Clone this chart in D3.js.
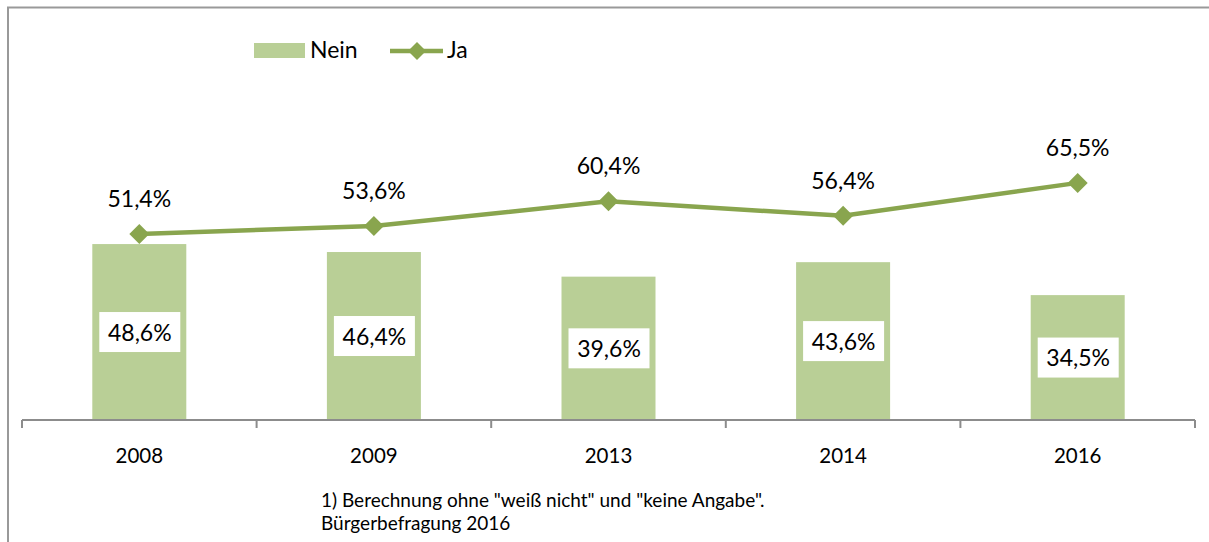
<!DOCTYPE html>
<html><head><meta charset="utf-8">
<script src="https://cdn.jsdelivr.net/npm/d3@7"></script>
<style>body{margin:0;background:#fff}svg{display:block}text{font-family:Lato,"Open Sans",sans-serif}</style>
</head><body><svg id="c" width="1209" height="542"></svg>
<script>
const categories = ["2008","2009","2013","2014","2016"];
const neinValues = [48.6,46.4,39.6,43.6,34.5];
const jaValues = [51.4,53.6,60.4,56.4,65.5];
const seriesNames = ["Nein","Ja"];
const footnotes = ['1) Berechnung ohne "weiß nicht" und "keine Angabe".','Bürgerbefragung 2016'];

const svg = d3.select("#c");
const barColor = "#B9CF96", lineColor = "#89A54E";
const fmt = v => d3.format(".1f")(v).replace(".", ",") + "%";

// frame
svg.append("line").attr("x1",7).attr("x2",1209).attr("y1",7.5).attr("y2",7.5).attr("stroke","#999").attr("stroke-width",2);
svg.append("line").attr("x1",8).attr("x2",8).attr("y1",7).attr("y2",542).attr("stroke","#999").attr("stroke-width",2);

const xb = d3.scaleBand().domain(categories).range([22,1195]);
const y = d3.scaleLinear().domain([0,100]).range([420,58]);
const cx = (d,i)=>xb(categories[i])+xb.bandwidth()/2;

// bars
svg.selectAll("rect.bar").data(neinValues).join("rect").attr("class","bar")
  .attr("x",(d,i)=>cx(d,i) - 47)
  .attr("width",94)
  .attr("y",d=>y(d)).attr("height",d=>y(0)-y(d)).attr("fill",barColor);

// axis
const axis = svg.append("g").attr("transform","translate(0,420)");
axis.append("line").attr("x1",22).attr("x2",1195).attr("stroke","#8c8c8c").attr("stroke-width",2);
const ticks = categories.map(c=>xb(c)).concat([xb.range()[1]]);
axis.selectAll("line.t").data(ticks).join("line").attr("class","t").attr("x1",d=>d).attr("x2",d=>d).attr("y1",0).attr("y2",8).attr("stroke","#8c8c8c").attr("stroke-width",2);
axis.selectAll("text").data(categories).join("text")
  .attr("x",d=>xb(d)+xb.bandwidth()/2).attr("y",43).attr("text-anchor","middle")
  .attr("font-size",20.5).attr("fill","#000").text(d=>d);

// bar labels
const lg = svg.selectAll("g.bl").data(neinValues).join("g").attr("class","bl")
  .attr("transform",(d,i)=>`translate(${cx(d,i)},${(y(d)+y(0))/2})`);
lg.append("rect").attr("x",-40).attr("y",-20).attr("width",81).attr("height",40).attr("fill","#fff");
lg.append("text").attr("x",0.5).attr("text-anchor","middle").attr("dy","0.38em").attr("font-size",23).text(d=>fmt(d));

// line
svg.append("path").datum(jaValues)
  .attr("d",d3.line().x(cx).y(d=>y(d)))
  .attr("fill","none").attr("stroke",lineColor).attr("stroke-width",4.5);
svg.selectAll("path.dm").data(jaValues).join("path").attr("class","dm")
  .attr("transform",(d,i)=>`translate(${cx(d,i)},${y(d)})`)
  .attr("d","M0,-10L10,0L0,10L-10,0Z").attr("fill",lineColor);
svg.selectAll("text.jl").data(jaValues).join("text").attr("class","jl")
  .attr("x",cx).attr("y",d=>y(d)-27).attr("text-anchor","middle").attr("font-size",23).text(d=>fmt(d));

// legend
svg.append("rect").attr("x",254).attr("y",43).attr("width",51).attr("height",15).attr("fill",barColor);
svg.append("text").attr("x",310).attr("y",58).attr("font-size",23).text(seriesNames[0]);
svg.append("line").attr("x1",390).attr("x2",443).attr("y1",51).attr("y2",51).attr("stroke",lineColor).attr("stroke-width",4.5);
svg.append("path").attr("transform","translate(417,51)").attr("d","M0,-9L9,0L0,9L-9,0Z").attr("fill",lineColor);
svg.append("text").attr("x",447).attr("y",58).attr("font-size",23).text(seriesNames[1]);

// footnote
svg.selectAll("text.fn").data(footnotes).join("text").attr("class","fn")
  .attr("x",321).attr("y",(d,i)=>507+i*23).attr("font-size",19).text(d=>d);
</script></body></html>
